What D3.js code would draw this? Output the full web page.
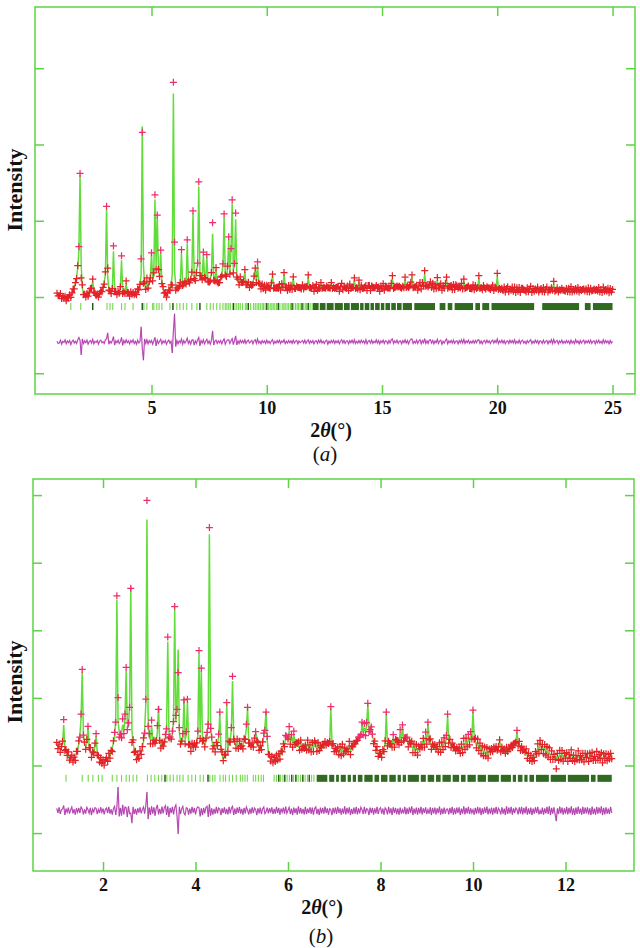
<!DOCTYPE html>
<html>
<head>
<meta charset="utf-8">
<script src="https://cdn.jsdelivr.net/npm/d3@7"></script>
<style>
  body { margin: 0; background: #fff; }
  svg { display: block; }
</style>
</head>
<body>
<svg></svg>
<script>
let width = 640;
let height = 948;

// ---- panel (a): 2theta from 0.90 in steps of 0.05, intensities in counts ----
let startA = 0.9;
let stepA = 0.05;
let calcA = [
  40, 35,
  30, 20, 10, 0, -10, -20, -25, -20, -5, 10, 30, 50, 80, 120, 180, 260, 380, 600, 1600, 420,
  120, 50, 20, 10, 20, 40, 60, 90, 130, 200, 90, 40, 25, 20, 30, 35, 50, 80, 120, 190,
  300, 1150, 260, 120, 70, 60, 90, 600, 110, 60, 40, 50, 70, 130, 480, 90, 50, 60, 180, 70,
  40, 35, 50, 40, 30, 50, 40, 60, 80, 110, 160, 300, 2240, 420, 160, 120, 220, 140, 180, 260,
  560, 240, 300, 1280, 420, 1050, 380, 260, 580, 200, 120, 60, 40, 30, 50, 70, 100, 150, 300, 2670,
  350, 150, 100, 140, 120, 200, 580, 180, 150, 220, 160, 700, 230, 170, 260, 300, 1100, 280, 200, 340,
  420, 1450, 330, 260, 240, 560, 280, 230, 520, 220, 180, 240, 300, 830, 260, 200, 360, 220, 170, 200,
  240, 300, 420, 1050, 320, 260, 380, 760, 320, 620, 1230, 350, 420, 1020, 300, 220, 180, 240, 200, 170,
  220, 330, 180, 150, 170, 140, 160, 130, 190, 260, 350, 210, 420, 200, 160, 130, 150, 120, 140, 110,
  130, 150, 110, 130, 170, 270, 140, 110, 130, 100, 120, 140, 110, 160, 130, 290, 150, 120, 100, 130,
  110, 140, 120, 240, 130, 100, 120, 150, 110, 130, 100, 140, 120, 110, 150, 130, 260, 140, 110, 120,
  130, 100, 120, 150, 110, 90, 120, 160, 130, 110, 140, 100, 120, 150, 110, 130, 170, 120, 100, 130,
  110, 140, 120, 100, 130, 150, 110, 120, 140, 100, 130, 110, 150, 120, 100, 140, 220, 130, 110, 120,
  200, 110, 130, 120, 100, 150, 120, 110, 140, 130, 100, 120, 150, 110, 130, 120, 140, 110, 100, 130,
  120, 150, 110, 130, 120, 140, 100, 130, 150, 240, 130, 110, 140, 120, 150, 130, 110, 140, 120, 130,
  230, 140, 120, 150, 130, 160, 250, 140, 120, 150, 130, 110, 140, 160, 130, 170, 150, 300, 160, 140,
  150, 130, 170, 140, 160, 130, 150, 120, 220, 140, 130, 150, 120, 140, 130, 160, 220, 140, 120, 150,
  130, 110, 140, 120, 150, 130, 140, 110, 130, 150, 120, 200, 130, 110, 140, 120, 130, 100, 120, 140,
  110, 130, 120, 100, 250, 130, 110, 120, 140, 100, 120, 110, 130, 100, 120, 110, 130, 100, 110, 120,
  270, 120, 100, 110, 90, 100, 110, 90, 100, 120, 90, 80, 100, 110, 90, 100, 80, 110, 90, 100,
  80, 100, 90, 110, 80, 90, 100, 80, 90, 110, 80, 100, 90, 80, 100, 110, 90, 80, 100, 90,
  100, 80, 90, 110, 90, 80, 100, 90, 110, 170, 90, 80, 100, 90, 80, 100, 90, 110, 80, 90,
  90, 80, 100, 90, 110, 80, 90, 100, 80, 90, 110, 90, 80, 100, 90, 80, 100, 90, 80, 100,
  80, 90, 100, 80, 90, 110, 80, 90, 100, 80, 90, 80, 100, 90, 80, 90, 100, 80, 90, 80,
  90
];
// observed - calculated
let diffA = [
  10, -20,
  -15, 25, -30, 10, -5, 30, -25, 15, -10, 20, -35, 5, 25, -15, 10, -20, 30, 60, 20, -170,
  40, -20, 15, -10, 25, -30, 5, 20, -15, 35, -25, 10, -5, 20, -30, 15, 25, -10, 5, -20,
  30, 40, 120, -30, 10, -15, 20, 70, -40, 15, -10, 25, -20, 5, 60, -45, 20, -15, 30, -10,
  15, -25, 20, -5, 30, -20, 10, -30, 25, -15, 5, 200, -80, -240, 40, -20, 30, -25, 20, -10,
  20, -30, 15, 60, -50, 25, -20, 10, 35, -25, 15, -10, 20, -30, 5, 25, -15, 10, -145, 145,
  370, -60, 20, -25, 15, -10, 40, -30, 20, -15, 10, 50, -20, 15, -30, 25, 30, -40, 15, -20,
  25, 60, -50, 20, -15, 30, -25, 10, 35, -20, 15, -30, 20, 145, -40, 10, 25, -20, 15, -10,
  20, -25, 15, 40, -30, 10, 25, 30, -20, 15, 45, -35, 20, 80, -40, 15, -20, 25, -10, 20,
  -15, 30, -20, 10, 25, -15, 5, 20, -25, 15, 30, -20, 40, -15, 10, -25, 20, -10, 15, -20,
  25, -15, 10, -20, 15, 30, -25, 10, -15, 20, -10, 25, -20, 15, -5, 30, -20, 10, -15, 20,
  -10, 15, -20, 25, -15, 10, 20, -25, 15, -10, 5, 20, -15, 25, -20, 10, 30, -20, 15, -10,
  20, -25, 10, 15, -20, 25, -10, 30, -15, 10, -20, 15, 25, -30, 10, -15, 20, -10, 25, -20,
  15, -10, 20, -25, 10, 30, -15, 20, -20, 10, 15, -25, 20, -10, 25, -15, 30, -20, 10, -15,
  20, -15, 25, -10, 15, -20, 30, -25, 10, 20, -15, 25, -20, 10, -10, 30, -15, 20, -25, 15,
  -10, 25, -20, 15, 10, -25, 20, -15, 30, 40, -20, 15, -10, 25, -20, 10, 15, -25, 20, -10,
  30, -15, 20, -25, 15, 35, 40, -20, 10, -15, 25, -20, 15, 30, -25, 20, -10, 45, -20, 15,
  -20, 25, 30, -15, 20, -25, 15, -10, 35, -20, 15, 25, -30, 10, -15, 20, 40, -25, 15, -10,
  20, -15, 25, -20, 10, 15, -25, 20, -10, 30, -15, 35, -20, 15, -10, 25, -20, 10, -15, 20,
  -15, 20, -10, 25, 30, -20, 15, -25, 10, 20, -15, 25, -10, 15, -20, 10, 25, -15, 20, -10,
  40, -20, 15, -10, 25, -15, 20, -25, 10, 15, -20, 25, -10, 20, -15, 30, -20, 10, -15, 25,
  -20, 15, 25, -15, 10, -25, 20, -10, 15, 30, -20, 10, -15, 25, -10, 20, -25, 15, 10, -20,
  25, -15, 10, 20, -25, 15, -10, 30, -20, 35, -15, 10, 20, -25, 15, -10, 25, -20, 10, -15,
  20, -10, 15, -25, 25, -15, 10, -20, 30, -10, 15, -25, 20, -15, 10, 25, -20, 15, -10, 20,
  -15, 25, -20, 10, 15, -25, 20, -10, 25, -15, 10, -20, 30, -15, 20, -10, 15, -25, 20, -15,
  10
];
let reflA = [1.50, 1.93, 2.45, 3.07, 3.20, 3.32, 3.70, 3.85, 4.20, 4.60, 4.67, 4.80, 5.05, 5.10,
  5.23, 5.33, 5.45, 5.80, 5.93, 6.10, 6.23, 6.38, 6.53, 6.75, 6.97, 7.10, 7.40, 7.55, 7.68, 7.83,
  7.97, 8.10, 8.20, 8.27, 8.35, 8.42, 8.55, 8.62, 8.70, 8.78, 8.85, 8.95, 9.07, 9.13, 9.20, 9.30,
  9.43, 9.50, 9.58, 9.65, 9.72, 9.80, 9.86, 9.93, 10.00, 10.08, 10.15, 10.22, 10.28, 10.35, 10.42,
  10.50, 10.57, 10.67, 10.74, 10.80, 10.88, 10.95, 11.03, 11.10, 11.17, 11.25, 11.32, 11.38, 11.45,
  11.53, 11.60, 11.67, 11.73, 11.80, 11.88, 11.97];
let reflStrongA = [2.45, 4.60, 5.93, 7.10, 8.55, 9.20, 10.00, 10.50, 11.10, 11.53, 11.80];
let reflBandsA = [[12.00, 12.25], [12.30, 12.55], [12.60, 12.90], [12.95, 13.30], [13.35, 13.60],
  [13.65, 14.00], [14.05, 14.20], [14.25, 14.45], [14.50, 14.65], [14.70, 14.90], [14.95, 15.10],
  [15.15, 15.35], [15.40, 15.60], [15.65, 15.85], [15.90, 16.30], [16.40, 17.30], [17.50, 17.75],
  [17.85, 18.05], [18.15, 18.95], [19.05, 19.25], [19.35, 19.65], [19.75, 21.60], [21.95, 23.55],
  [23.80, 24.05], [24.15, 25.00]];
let xTicksA = [5, 10, 15, 20, 25];
let yTicksA = [-1000, 0, 1000, 2000, 3000];

// ---- panel (b): 2theta from 1.000 in steps of 0.025 ----
let startB = 1.0;
let stepB = 0.025;
let calcB = [
  300, 280, 260, 240, 260, 330, 600, 280, 200, 170, 150, 120, 100, 90, 85, 100, 130, 170, 230, 320,
  450, 700, 1390, 500, 320, 280, 330, 560, 300, 220, 180, 170, 200, 280, 430, 200, 120, 80, 60, 50,
  50, 55, 60, 70, 90, 120, 150, 200, 260, 330, 420, 700, 2450, 650, 500, 420, 480, 600, 520, 700,
  1400, 620, 560, 900, 2650, 520, 320, 240, 180, 140, 120, 130, 160, 200, 260, 350, 520, 900, 3640, 700,
  420, 380, 600, 360, 320, 400, 330, 500, 880, 340, 300, 280, 320, 300, 380, 600, 1830, 500, 380, 420,
  450, 700, 2300, 650, 900, 1715, 500, 360, 330, 400, 1000, 380, 450, 940, 360, 280, 250, 270, 300, 280,
  320, 300, 450, 1650, 480, 1400, 420, 330, 310, 350, 420, 700, 3420, 620, 380, 300, 260, 240, 280, 330,
  420, 760, 300, 160, 100, 110, 200, 900, 260, 300, 380, 520, 1250, 450, 320, 300, 340, 280, 300, 320,
  260, 300, 350, 420, 550, 850, 380, 300, 320, 280, 300, 360, 480, 420, 300, 260, 240, 280, 320, 420,
  560, 800, 380, 200, 120, 90, 80, 85, 90, 100, 95, 110, 130, 150, 180, 220, 270, 320, 380, 460,
  380, 520, 360, 420, 330, 460, 340, 300, 380, 280, 260, 330, 280, 250, 300, 240, 270, 340, 260, 250,
  240, 290, 260, 330, 270, 250, 310, 280, 240, 300, 270, 340, 290, 330, 300, 380, 320, 850, 360, 280,
  240, 200, 260, 210, 190, 240, 200, 280, 210, 190, 250, 200, 240, 300, 220, 260, 320, 280, 360, 300,
  420, 380, 460, 400, 620, 500, 560, 480, 600, 900, 560, 480, 600, 420, 380, 320, 260, 220, 180, 150,
  130, 160, 200, 260, 320, 770, 340, 300, 360, 280, 330, 400, 300, 340, 420, 330, 360, 480, 380, 580,
  400, 350, 460, 380, 320, 300, 360, 290, 250, 280, 230, 260, 210, 240, 280, 250, 320, 360, 300, 440,
  360, 620, 420, 340, 300, 270, 320, 260, 290, 240, 230, 270, 250, 310, 280, 360, 320, 420, 730, 380,
  340, 300, 270, 320, 240, 260, 220, 250, 200, 240, 280, 230, 330, 290, 360, 310, 400, 350, 460, 420,
  800, 440, 360, 300, 330, 260, 280, 230, 250, 190, 220, 170, 200, 160, 210, 240, 200, 260, 230, 280,
  220, 270, 240, 370, 250, 220, 260, 210, 240, 200, 250, 220, 280, 240, 320, 280, 360, 300, 500, 340,
  300, 260, 220, 270, 200, 230, 180, 160, 140, 120, 100, 120, 85, 110, 150, 200, 260, 230, 360, 280,
  260, 230, 270, 190, 220, 170, 190, 150, 170, 130, 110, 140, 100, 140, 120, 160, 130, 170, 120, 140,
  150, 130, 110, 120, 140, 160, 130, 110, 120, 100, 130, 150, 120, 110, 140, 120, 100, 130, 150, 120,
  110, 140, 160, 130, 120, 100, 130, 150, 120, 110, 140, 120, 100, 130, 150, 120, 110, 130, 140, 120,
  130
];
let diffB = [
  40, -30, 55, -45, 20, 30, 80, -60, 35, -20, 50, -40, 15, 60, -35, 25, -55, 40, -20, 45,
  -30, 60, 30, -50, 25, -40, 55, 20, -35, 45, -60, 30, -15, 50, 40, -45, 25, -30, 55, -20,
  35, -50, 20, 45, -30, 60, -40, 25, -55, 35, 70, -60, 60, 355, -80, 45, -70, 90, -50, 60,
  50, -90, 70, -40, -30, -180, 60, -45, 30, -55, 40, -25, 55, -35, 20, 60, -40, 80, 280, -120,
  50, -60, 70, -40, 55, -70, 40, 90, -50, 30, -45, 65, -35, 50, 80, -60, 70, -90, 45, -30,
  60, -50, 50, 90, -70, -340, 60, -45, 30, 70, -30, -60, 50, 40, -55, 35, -40, 60, -25, 45,
  -50, 35, 60, 50, -80, 40, -60, 45, -35, 55, 70, -90, 100, -70, 40, -55, 30, -40, 60, -35,
  45, 30, -60, 40, -30, 55, -45, 30, -50, 60, -35, 40, 70, -60, 35, -45, 50, -30, 60, -40,
  30, -55, 45, -35, 60, 10, -50, 35, -40, 55, -30, 45, 20, -60, 40, -35, 50, -45, 30, 60,
  -40, -10, 50, -35, 40, -25, 55, -45, 30, -40, 60, -30, 45, -55, 35, -20, 50, -40, 65, -35,
  10, 55, -45, 35, -60, 50, -30, 40, -55, 70, -35, 45, -40, 30, -50, 60, -45, 35, -30, 55,
  -40, 50, -55, 35, 60, -45, 30, -60, 50, -35, 45, -40, 65, -30, 40, -55, 35, 20, -60, 45,
  -35, 50, -45, 60, -30, 40, -55, 35, -40, 70, -50, 45, -35, 55, -60, 30, -45, 50, -40, 60,
  -50, 40, -35, 55, 20, -45, 60, -40, 35, 20, -60, 50, -30, 45, -55, 40, -35, 60, -45, 30,
  50, -40, 35, -55, 45, 20, -50, 60, -35, 40, -60, 55, -30, 45, -45, 35, -55, 50, -40, 20,
  -35, 60, -50, 40, -45, 55, -30, 70, -60, 35, -40, 50, -55, 45, -35, 60, -50, 40, -30, 55,
  -45, 20, -40, 55, -60, 45, -35, 50, -50, 40, -30, 65, -55, 35, -45, 50, -40, 25, 30, -50,
  45, -35, 60, -55, 40, -45, 50, -30, 55, -60, 35, -40, 70, -50, 45, -35, 60, -45, 40, -30,
  20, -55, 45, -40, 60, -35, 50, -60, 40, -45, 55, -30, 65, -50, 35, -40, 50, -55, 45, -35,
  60, -45, 40, 10, -50, 55, -40, 35, -60, 70, -45, 50, -35, 60, -55, 40, -30, 45, 20, -50,
  55, -40, 60, -50, 45, -35, 65, -55, 40, -45, 50, -60, 35, -40, 55, -30, 60, -50, 10, -45,
  50, -55, 40, -35, 60, -45, 70, -60, 45, -40, 55, -50, -150, 40, -45, 65, -35, 50, -55, 40,
  -40, 60, -50, 45, -35, 70, -55, 40, -60, 50, -45, 65, -40, 35, -55, 60, -45, 50, -35, 55,
  -50, 40, -60, 65, -45, 35, -55, 60, -40, 50, -35, 70, -60, 45, -50, 55, -40, 35, -45, 60,
  -30
];
let reflB = [1.20, 1.55, 1.68, 1.78, 1.90, 1.98, 2.20, 2.30, 2.40, 2.50, 2.57, 2.65, 2.73, 2.96,
  3.04, 3.12, 3.20, 3.27, 3.34, 3.38, 3.45, 3.52, 3.60, 3.66, 3.73, 3.84, 3.92, 4.00, 4.10, 4.17,
  4.27, 4.31, 4.37, 4.42, 4.53, 4.60, 4.65, 4.73, 4.80, 4.88, 4.97, 5.02, 5.07, 5.12, 5.25, 5.30,
  5.36, 5.42, 5.47, 5.70, 5.75, 5.80, 5.84, 5.89, 5.93, 5.98, 6.03, 6.08, 6.12, 6.17, 6.22, 6.27,
  6.32, 6.37, 6.42, 6.46, 6.51, 6.56];
let reflStrongB = [3.34, 4.27, 5.80, 5.93, 6.08, 6.17, 6.32, 6.46];
let reflBandsB = [[6.62, 6.85], [6.89, 7.00], [7.04, 7.10], [7.14, 7.25], [7.29, 7.36], [7.40, 7.47],
  [7.51, 7.61], [7.65, 7.83], [7.87, 7.97], [8.01, 8.15], [8.19, 8.33], [8.37, 8.44], [8.48, 8.55],
  [8.59, 8.83], [8.87, 8.98], [9.02, 9.16], [9.20, 9.30], [9.34, 9.52], [9.56, 9.70], [9.74, 9.84],
  [9.88, 10.06], [10.10, 10.28], [10.32, 10.56], [10.60, 10.82], [10.86, 10.93], [10.97, 11.07],
  [11.11, 11.18], [11.22, 11.32], [11.36, 11.64], [11.68, 12.01], [12.05, 12.51], [12.55, 12.65],
  [12.69, 13.00]];
let xTicksB = [2, 4, 6, 8, 10, 12];
let yTicksB = [-1000, 0, 1000, 2000, 3000, 4000];

let panels = [
  { start: startA, step: stepA, calc: calcA, diff: diffA, refl: reflA, reflStrong: reflStrongA,
    bands: reflBandsA, xTicks: xTicksA, yTicks: yTicksA, name: 'a',
    xDomain: [-0.054, 25.975], yDomain: [-1272, 3803],
    left: 35, right: 635, top: 7, bottom: 394,
    diffOffset: -590, reflLevel: -125,
    titleX: 331, titleY: 437, nameX: 325, nameY: 461, yLabelY: 190 },
  { start: startB, step: stepB, calc: calcB, diff: diffB, refl: reflB, reflStrong: reflStrongB,
    bands: reflBandsB, xTicks: xTicksB, yTicks: yTicksB, name: 'b',
    xDomain: [0.486, 13.481], yDomain: [-1561, 4238],
    left: 33, right: 634, top: 479, bottom: 871,
    diffOffset: -673, reflLevel: -190,
    titleX: 322, titleY: 914, nameX: 321, nameY: 943, yLabelY: 682 }
];

let svg = d3.select('svg')
  .attr('width', width)
  .attr('height', height);

let frameColor = '#5cd444';
let serif = '"Liberation Serif", "DejaVu Serif", serif';

let drawPanel = (p) => {
  let xScale = d3.scaleLinear().domain(p.xDomain).range([p.left, p.right]);
  let yScale = d3.scaleLinear().domain(p.yDomain).range([p.bottom, p.top]);

  let points = p.calc.map((c, i) => {
    let d = p.diff[i] || 0;
    return { x: p.start + i * p.step, calc: c, obs: c + d, diff: d };
  });

  let g = svg.append('g');

  // reflection markers
  let ry = yScale(p.reflLevel);
  g.selectAll('rect.band')
    .data(p.bands)
    .enter()
    .append('rect')
    .attr('class', 'band')
    .attr('x', (d) => xScale(d[0]))
    .attr('width', (d) => xScale(d[1]) - xScale(d[0]))
    .attr('y', ry - 3.5)
    .attr('height', 7)
    .attr('fill', '#2f6a20');
  g.selectAll('line.refl')
    .data(p.refl)
    .enter()
    .append('line')
    .attr('class', 'refl')
    .attr('x1', (d) => xScale(d))
    .attr('x2', (d) => xScale(d))
    .attr('y1', ry - 3.5)
    .attr('y2', ry + 3.5)
    .attr('stroke', '#72d84a')
    .attr('stroke-width', 1.1);
  g.selectAll('line.strong')
    .data(p.reflStrong)
    .enter()
    .append('line')
    .attr('class', 'strong')
    .attr('x1', (d) => xScale(d))
    .attr('x2', (d) => xScale(d))
    .attr('y1', ry - 3.5)
    .attr('y2', ry + 3.5)
    .attr('stroke', '#24501a')
    .attr('stroke-width', 1.3);

  // calculated profile (under the observed crosses)
  g.append('path')
    .datum(points)
    .attr('d', d3.line().x((d) => xScale(d.x)).y((d) => yScale(d.calc)))
    .attr('fill', 'none')
    .attr('stroke', '#62dc3a')
    .attr('stroke-width', 1.5);

  // observed points as crosses
  let cross = (list) => list.map((d) => {
    let x = xScale(d.x), y = yScale(d.obs);
    return `M${x - 3.5},${y}h7M${x},${y - 3.5}v7`;
  }).join('');
  g.append('path')
    .attr('d', cross(points.filter((d) => d.obs < 420)))
    .attr('fill', 'none')
    .attr('stroke', '#e4222a')
    .attr('stroke-width', 1.25);
  g.append('path')
    .attr('d', cross(points.filter((d) => d.obs >= 420)))
    .attr('fill', 'none')
    .attr('stroke', '#ee2c6e')
    .attr('stroke-width', 1.25);

  // difference curve
  let diffLine = d3.line().x((d) => xScale(d.x)).y((d) => yScale(p.diffOffset + d.diff));
  g.append('path')
    .datum(points)
    .attr('d', diffLine)
    .attr('fill', 'none')
    .attr('stroke', '#d858d4')
    .attr('stroke-width', 1.2);
  g.append('path')
    .datum(points)
    .attr('d', diffLine)
    .attr('fill', 'none')
    .attr('stroke', '#3a2436')
    .attr('stroke-width', 0.6)
    .attr('stroke-opacity', 0.35);

  // frame and inward ticks
  g.append('rect')
    .attr('x', p.left)
    .attr('y', p.top)
    .attr('width', p.right - p.left)
    .attr('height', p.bottom - p.top)
    .attr('fill', 'none')
    .attr('stroke', frameColor)
    .attr('stroke-width', 1.5);

  let axes = [
    [d3.axisBottom(xScale).tickValues(p.xTicks).tickFormat(d3.format('d')), `translate(0,${p.bottom})`],
    [d3.axisTop(xScale).tickValues(p.xTicks).tickFormat(''), `translate(0,${p.top})`],
    [d3.axisLeft(yScale).tickValues(p.yTicks).tickFormat(''), `translate(${p.left},0)`],
    [d3.axisRight(yScale).tickValues(p.yTicks).tickFormat(''), `translate(${p.right},0)`]
  ];
  axes.forEach(([axis, tr]) => {
    let a = g.append('g')
      .attr('transform', tr)
      .call(axis.tickSize(-9).tickPadding(7));
    a.select('.domain').remove();
    a.selectAll('line').attr('stroke', frameColor).attr('stroke-width', 1.5);
    a.selectAll('text')
      .attr('fill', '#111')
      .style('font-family', serif)
      .style('font-size', '18px')
      .style('font-weight', 'bold');
  });

  // axis titles
  let t = g.append('text')
    .attr('x', p.titleX)
    .attr('y', p.titleY)
    .attr('text-anchor', 'middle')
    .style('font-family', serif)
    .style('font-size', '20px')
    .style('font-weight', 'bold')
    .attr('fill', '#111');
  t.append('tspan').text('2');
  t.append('tspan').style('font-style', 'italic').text('θ');
  t.append('tspan').text('(°)');

  let n = g.append('text')
    .attr('x', p.nameX)
    .attr('y', p.nameY)
    .attr('text-anchor', 'middle')
    .style('font-family', serif)
    .style('font-size', '21px')
    .attr('fill', '#111');
  n.append('tspan').text('(');
  n.append('tspan').style('font-style', 'italic').text(p.name);
  n.append('tspan').text(')');

  g.append('text')
    .attr('transform', `translate(22,${p.yLabelY}) rotate(-90)`)
    .attr('text-anchor', 'middle')
    .style('font-family', serif)
    .style('font-size', '22px')
    .style('font-weight', 'bold')
    .attr('fill', '#111')
    .text('Intensity');
};

panels.forEach(drawPanel);
</script>
</body>
</html>
